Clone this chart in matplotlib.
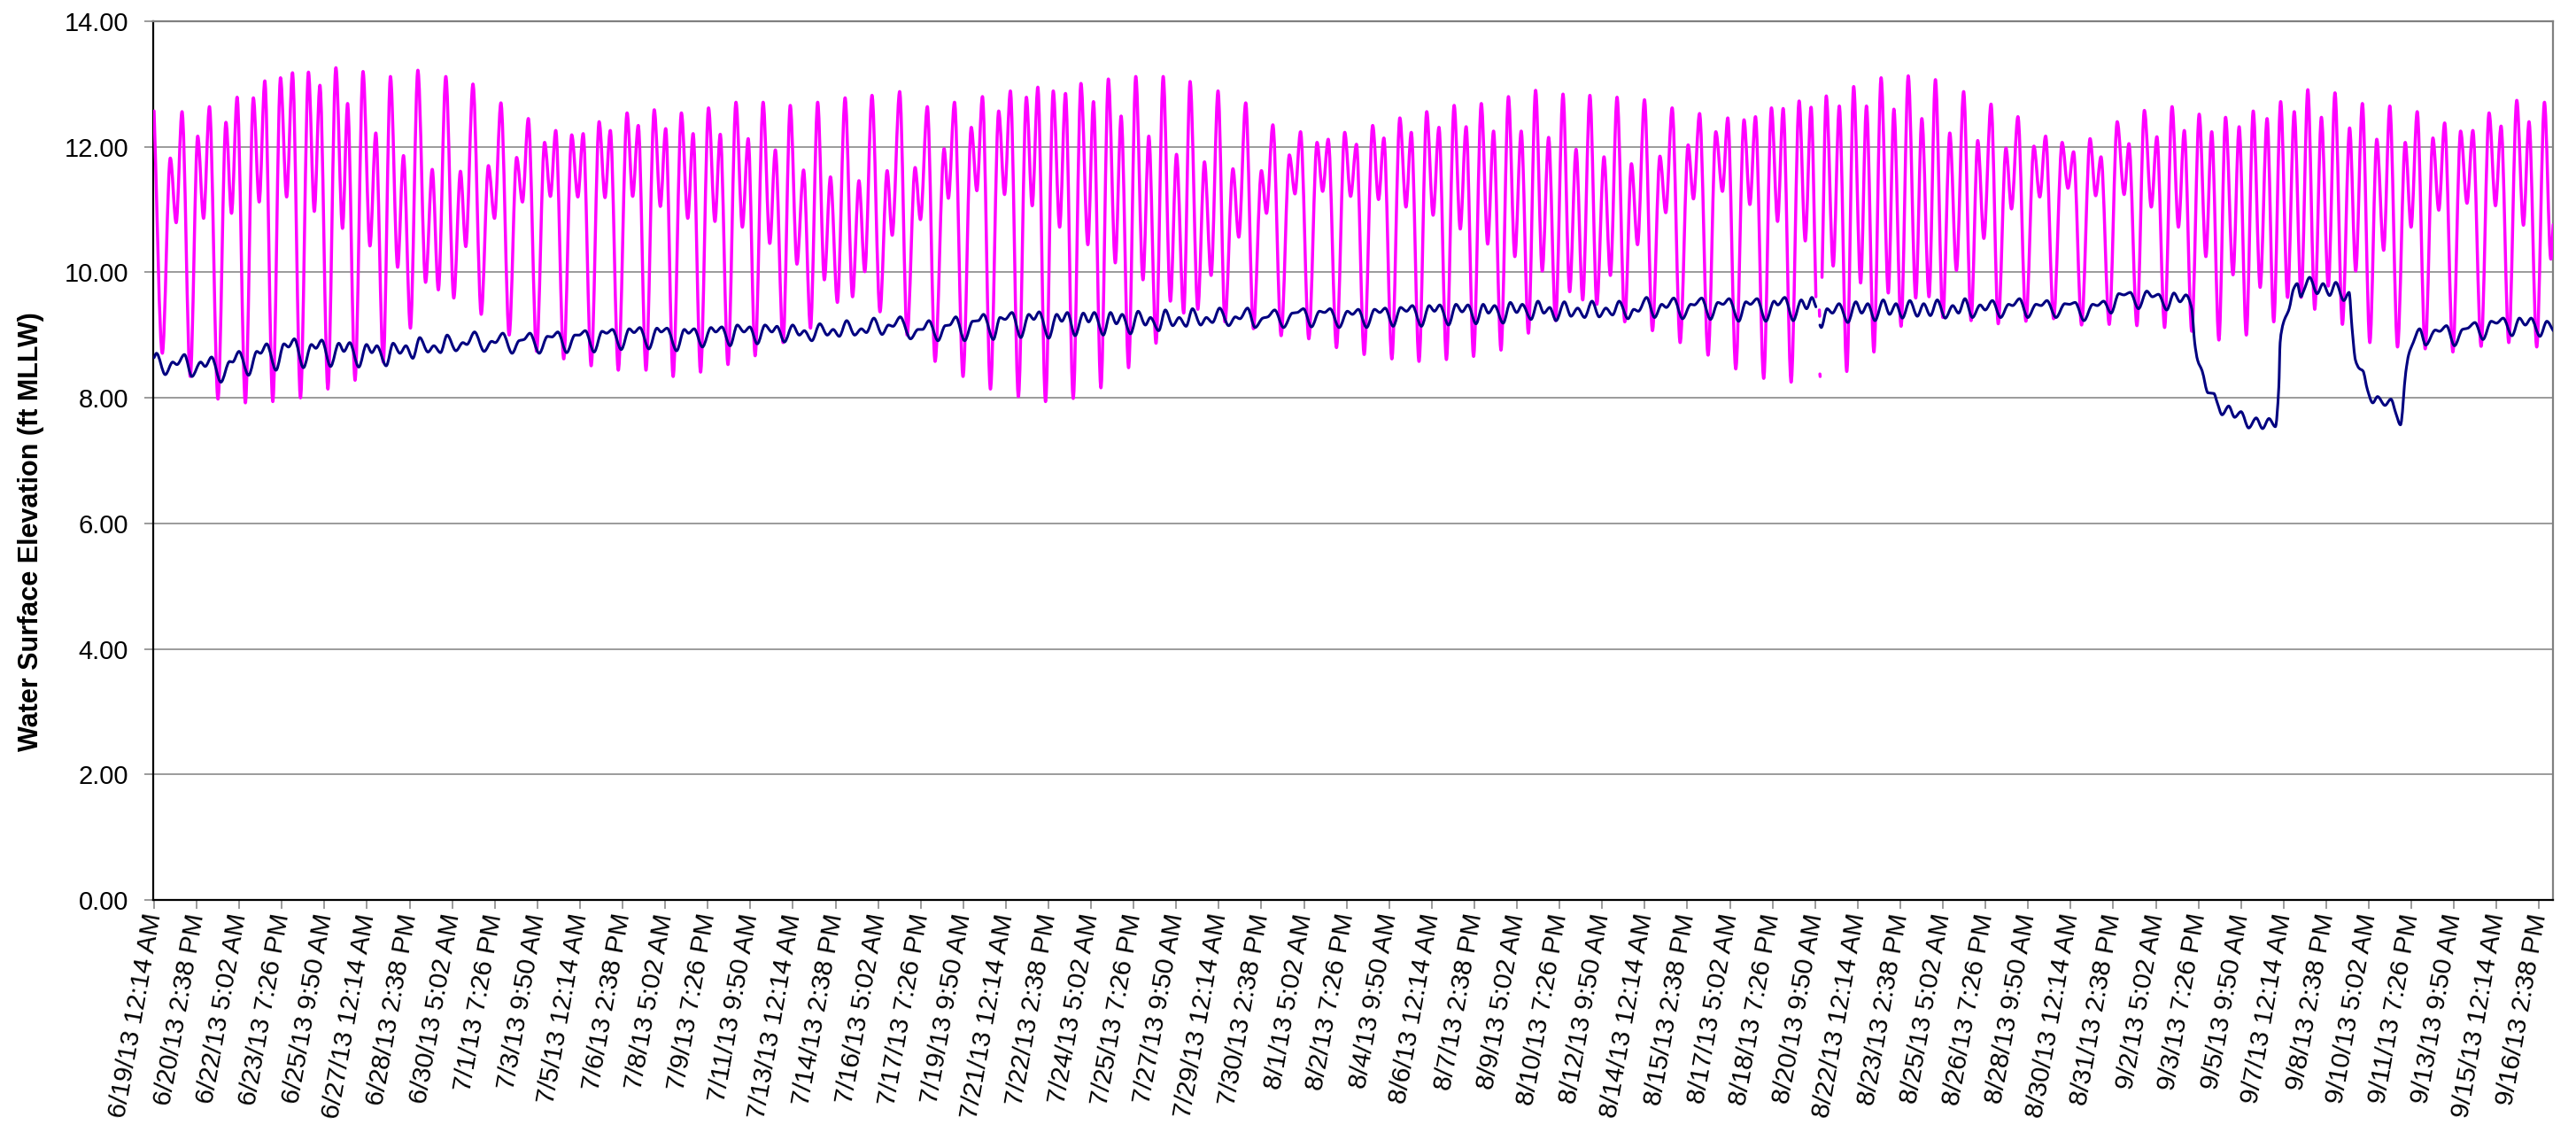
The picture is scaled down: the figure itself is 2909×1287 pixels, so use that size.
import numpy as np
import matplotlib
matplotlib.use("Agg")
import matplotlib.pyplot as plt
from matplotlib.path import Path
from matplotlib.patches import PathPatch

plt.rcParams['font.family'] = ['Liberation Sans', 'DejaVu Sans']

# ---------------- data (time in days after 6/19/13 12:14 AM, elevation ft MLLW) -------------
# Outside tide (magenta): successive high / low water values
tide_t_1 = [0.00, 0.31, 0.61, 0.83, 1.05, 1.36, 1.64, 1.86, 2.08, 2.40, 2.70, 2.91, 3.12, 3.43, 3.73,
            3.95, 4.16, 4.46, 4.75, 4.98, 5.20, 5.50, 5.80, 6.02, 6.23, 6.53, 6.83, 7.08, 7.27, 7.55,
            7.85, 8.11, 8.33, 8.61, 8.88, 9.15, 9.37, 9.63, 9.91, 10.20, 10.45, 10.68, 10.96]
tide_v_1 = [12.57, 8.71, 11.82, 10.79, 12.56, 8.34, 12.17, 10.86, 12.64, 7.98, 12.39, 10.94, 12.79, 7.92,
            12.78, 11.12, 13.05, 7.94, 13.10, 11.20, 13.18, 8.00, 13.19, 10.97, 12.98, 8.14, 13.26,
            10.70, 12.69, 8.28, 13.20, 10.42, 12.22, 8.57, 13.12, 10.08, 11.86, 9.11, 13.22, 9.84,
            11.64, 9.72, 13.12]
tide_t_2 = [11.26, 11.51, 11.71, 11.98, 12.29, 12.56, 12.79, 13.03, 13.34, 13.62, 13.84, 14.06, 14.37,
            14.67, 14.89, 15.09, 15.39, 15.69, 15.92, 16.12, 16.42, 16.72, 16.94, 17.14, 17.44, 17.77,
            17.98, 18.19, 18.48, 18.79, 19.02, 19.22, 19.50, 19.81, 20.05, 20.25, 20.53, 20.83, 21.07,
            21.27, 21.56, 21.86, 22.10, 22.32]
tide_v_2 = [9.59, 11.61, 10.41, 13.00, 9.33, 11.70, 10.86, 12.70, 9.00, 11.83, 11.12, 12.45, 8.74, 12.07,
            11.21, 12.26, 8.62, 12.19, 11.20, 12.21, 8.51, 12.40, 11.19, 12.26, 8.44, 12.54, 11.21,
            12.34, 8.44, 12.59, 11.05, 12.29, 8.34, 12.54, 10.86, 12.21, 8.41, 12.62, 10.81, 12.20,
            8.53, 12.71, 10.72, 12.13]
tide_t_3 = [22.58, 22.88, 23.13, 23.34, 23.63, 23.90, 24.15, 24.40, 24.66, 24.93, 25.18, 25.41, 25.67,
            25.96, 26.24, 26.48, 26.70, 26.97, 27.27, 27.54, 27.73, 28.01, 28.29, 28.59, 28.79, 29.05,
            29.34, 29.68, 29.84, 30.07, 30.39, 30.70, 30.91, 31.12, 31.42, 31.73, 31.95, 32.17, 32.47,
            32.77, 32.99, 33.20, 33.49, 33.78]
tide_v_3 = [8.67, 12.71, 10.46, 11.95, 8.88, 12.66, 10.13, 11.63, 9.11, 12.71, 9.88, 11.52, 9.52, 12.78,
            9.61, 11.46, 10.01, 12.82, 9.37, 11.62, 10.59, 12.88, 9.00, 11.67, 10.84, 12.64, 8.58,
            11.97, 11.18, 12.71, 8.34, 12.31, 11.30, 12.80, 8.14, 12.57, 11.24, 12.89, 8.02, 12.79,
            11.06, 12.95, 7.94, 12.89]
tide_t_4 = [34.02, 34.24, 34.53, 34.82, 35.08, 35.29, 35.57, 35.85, 36.11, 36.33, 36.61, 36.88, 37.15,
            37.37, 37.64, 37.91, 38.18, 38.41, 38.68, 38.92, 39.21, 39.46, 39.71, 39.97, 40.23, 40.53,
            40.75, 41.01, 41.30, 41.60, 41.79, 42.03, 42.34, 42.65, 42.86, 43.07, 43.38, 43.69, 43.90,
            44.11, 44.42, 44.73, 44.95]
tide_v_4 = [10.72, 12.85, 7.99, 13.01, 10.44, 12.72, 8.16, 13.08, 10.15, 12.49, 8.48, 13.12, 9.88, 12.17,
            8.87, 13.12, 9.54, 11.88, 9.35, 13.04, 9.41, 11.76, 9.95, 12.89, 9.21, 11.65, 10.56, 12.70,
            9.10, 11.62, 10.94, 12.35, 8.99, 11.87, 11.25, 12.24, 8.94, 12.07, 11.29, 12.12, 8.80,
            12.23, 11.21]
tide_t_5 = [45.17, 45.46, 45.78, 46.00, 46.20, 46.50, 46.80, 47.03, 47.23, 47.52, 47.81, 48.05, 48.27,
            48.55, 48.84, 49.07, 49.29, 49.57, 49.86, 50.10, 50.32, 50.60, 50.88, 51.12, 51.36, 51.63,
            51.90, 52.15, 52.39, 52.65, 52.93, 53.18, 53.42, 53.67, 53.94, 54.20, 54.47, 54.71, 54.96,
            55.25, 55.50, 55.73, 55.99, 56.29]
tide_v_5 = [12.04, 8.69, 12.34, 11.16, 12.14, 8.62, 12.46, 11.04, 12.23, 8.58, 12.56, 10.91, 12.31, 8.61,
            12.66, 10.69, 12.32, 8.66, 12.69, 10.45, 12.25, 8.76, 12.80, 10.25, 12.25, 9.03, 12.90,
            10.02, 12.15, 9.23, 12.84, 9.69, 11.96, 9.56, 12.82, 9.49, 11.84, 9.95, 12.79, 9.21, 11.73,
            10.44, 12.75, 9.07]
tide_t_6 = [56.57, 56.79, 57.03, 57.33, 57.63, 57.83, 58.06, 58.38, 58.67, 58.92, 59.12, 59.42, 59.73,
            59.95, 60.16, 60.47, 60.76, 60.99, 61.20, 61.50, 61.80, 62.03, 62.25, 62.43]
tide_v_6 = [11.85, 10.95, 12.62, 8.88, 12.03, 11.17, 12.53, 8.68, 12.24, 11.29, 12.46, 8.46, 12.43, 11.08,
            12.48, 8.31, 12.62, 10.81, 12.61, 8.25, 12.73, 10.50, 12.63, 9.61]
# short fragments recorded inside the data gap of 8/21
tide_gap_t = [62.56, 62.57, np.nan, 62.58, 62.59]
tide_gap_v = [9.40, 9.30, np.nan, 8.38, 8.34]
tide_t_7 = [62.66, 62.82, 63.08, 63.31, 63.59, 63.85, 64.11, 64.33, 64.61, 64.88, 65.15, 65.36, 65.63,
            65.90, 66.18, 66.41, 66.68, 66.92, 67.20, 67.46, 67.71]
tide_v_7 = [9.92, 12.81, 10.10, 12.65, 8.42, 12.96, 9.83, 12.65, 8.73, 13.10, 9.67, 12.60, 9.14, 13.13,
            9.59, 12.45, 9.61, 13.07, 9.28, 12.22, 10.03]
tide_t_8 = [67.98, 68.26, 68.51, 68.74, 69.01, 69.28, 69.57, 69.78, 70.02, 70.32, 70.62, 70.84, 71.06,
            71.36, 71.68, 71.90, 72.11, 72.41, 72.73, 72.94, 73.14, 73.45, 73.75, 74.01, 74.19, 74.49,
            74.77, 75.03, 75.24, 75.53, 75.81, 76.05, 76.27, 76.55, 76.83, 77.08, 77.30, 77.57, 77.82,
            78.10, 78.33, 78.60, 78.86]
tide_v_8 = [12.88, 9.23, 12.10, 10.54, 12.68, 9.18, 11.98, 11.01, 12.48, 9.22, 12.01, 11.20, 12.17, 9.26,
            12.07, 11.34, 11.92, 9.16, 12.13, 11.22, 11.84, 9.17, 12.40, 11.24, 12.05, 9.15, 12.58,
            11.04, 12.16, 9.12, 12.64, 10.72, 12.26, 9.06, 12.52, 10.25, 12.24, 8.92, 12.47, 9.96,
            12.32, 9.00, 12.57]
tide_t_9 = [79.12, 79.38, 79.63, 79.89, 80.15, 80.40, 80.66, 80.91, 81.17, 81.42, 81.68, 81.93, 82.21,
            82.48, 82.71, 82.96, 83.24, 83.50, 83.76, 83.99, 84.28, 84.57, 84.79, 85.02, 85.32, 85.61,
            85.83, 86.05, 86.36, 86.65, 86.89, 87.11, 87.42, 87.72, 87.96, 88.17, 88.46, 88.76, 89.01,
            89.22, 89.51, 89.80, 90.04, 90.13]
tide_v_9 = [9.76, 12.45, 9.21, 12.72, 9.60, 12.56, 9.60, 12.91, 9.41, 12.47, 9.78, 12.86, 9.17, 12.30,
            10.02, 12.69, 8.88, 12.12, 10.35, 12.65, 8.81, 12.07, 10.72, 12.56, 8.78, 12.14, 10.99,
            12.38, 8.73, 12.25, 11.10, 12.26, 8.82, 12.54, 11.06, 12.33, 8.88, 12.74, 10.75, 12.40,
            8.81, 12.71, 10.21, 10.76]

# Inside water level (navy)
lagoon_t_1 = [0.00, 0.09, 0.42, 0.70, 0.86, 1.14, 1.42, 1.75, 1.92, 2.16, 2.51, 2.84, 2.95, 3.19, 3.55,
              3.86, 4.00, 4.23, 4.58, 4.88, 5.05, 5.27, 5.61, 5.91, 6.08, 6.30, 6.63, 6.94, 7.13, 7.35,
              7.69, 7.98, 8.18, 8.37, 8.72, 8.98, 9.24, 9.46, 9.72, 9.98, 10.29, 10.51, 10.76, 11.01]
lagoon_v_1 = [8.64, 8.71, 8.37, 8.57, 8.53, 8.69, 8.34, 8.57, 8.50, 8.65, 8.25, 8.58, 8.57, 8.74, 8.36,
              8.74, 8.71, 8.86, 8.44, 8.86, 8.81, 8.94, 8.48, 8.85, 8.79, 8.92, 8.50, 8.87, 8.74, 8.88,
              8.49, 8.85, 8.72, 8.83, 8.51, 8.87, 8.71, 8.83, 8.63, 8.96, 8.73, 8.83, 8.72, 9.00]
lagoon_t_2 = [11.34, 11.60, 11.75, 12.04, 12.40, 12.68, 12.82, 13.10, 13.45, 13.71, 13.90, 14.12, 14.47,
              14.78, 14.95, 15.17, 15.50, 15.81, 15.97, 16.20, 16.53, 16.83, 17.00, 17.22, 17.55, 17.85,
              18.03, 18.25, 18.59, 18.89, 19.05, 19.27, 19.63, 19.92, 20.08, 20.29, 20.60, 20.92, 21.10,
              21.33, 21.64, 21.91, 22.16, 22.38]
lagoon_v_2 = [8.75, 8.88, 8.85, 9.05, 8.74, 8.90, 8.88, 9.03, 8.71, 8.91, 8.93, 9.03, 8.71, 8.98, 8.97,
              9.05, 8.72, 9.00, 9.00, 9.07, 8.73, 9.06, 9.03, 9.09, 8.77, 9.10, 9.04, 9.12, 8.78, 9.11,
              9.05, 9.11, 8.75, 9.09, 9.03, 9.10, 8.81, 9.12, 9.05, 9.13, 8.83, 9.16, 9.05, 9.13]
lagoon_t_3 = [22.66, 22.95, 23.21, 23.40, 23.68, 23.99, 24.24, 24.43, 24.71, 25.01, 25.29, 25.51, 25.74,
              26.02, 26.32, 26.57, 26.76, 27.04, 27.35, 27.59, 27.76, 28.03, 28.42, 28.70, 28.87, 29.11,
              29.45, 29.72, 29.89, 30.12, 30.45, 30.75, 30.97, 31.16, 31.53, 31.78, 31.97, 32.23, 32.56,
              32.86, 33.05, 33.25, 33.61]
lagoon_v_3 = [8.86, 9.16, 9.05, 9.14, 8.89, 9.16, 9.00, 9.07, 8.91, 9.18, 9.00, 9.09, 8.98, 9.23, 9.00,
              9.10, 9.04, 9.27, 9.01, 9.16, 9.14, 9.29, 8.94, 9.09, 9.09, 9.23, 8.91, 9.15, 9.16, 9.29,
              8.91, 9.22, 9.23, 9.33, 8.93, 9.28, 9.25, 9.36, 8.96, 9.33, 9.25, 9.37, 8.95]
lagoon_t_4 = [33.91, 34.10, 34.31, 34.60, 34.91, 35.11, 35.32, 35.66, 35.93, 36.15, 36.37, 36.68, 36.97,
              37.24, 37.43, 37.74, 37.99, 38.27, 38.51, 38.77, 39.01, 39.32, 39.53, 39.76, 40.03, 40.37,
              40.62, 40.79, 41.08, 41.36, 41.65, 41.84, 42.10, 42.43, 42.76, 42.95, 43.18, 43.48, 43.78,
              43.97, 44.18, 44.52, 44.83]
lagoon_v_4 = [9.33, 9.22, 9.36, 8.99, 9.35, 9.21, 9.36, 9.00, 9.36, 9.18, 9.33, 9.02, 9.38, 9.16, 9.28,
              9.07, 9.40, 9.15, 9.28, 9.14, 9.42, 9.16, 9.28, 9.20, 9.43, 9.15, 9.29, 9.26, 9.43, 9.12,
              9.27, 9.29, 9.40, 9.12, 9.35, 9.36, 9.42, 9.13, 9.38, 9.36, 9.42, 9.12, 9.38]
lagoon_t_5 = [45.02, 45.24, 45.55, 45.85, 46.05, 46.25, 46.55, 46.83, 47.05, 47.27, 47.61, 47.90, 48.10,
              48.30, 48.63, 48.91, 49.14, 49.36, 49.66, 49.93, 50.13, 50.36, 50.68, 50.95, 51.19, 51.40,
              51.73, 51.99, 52.21, 52.43, 52.67, 52.98, 53.23, 53.48, 53.74, 54.02, 54.29, 54.54, 54.79,
              55.04, 55.37, 55.59, 55.76, 56.07, 56.37]
lagoon_v_5 = [9.33, 9.41, 9.12, 9.41, 9.36, 9.43, 9.14, 9.44, 9.38, 9.47, 9.14, 9.47, 9.38, 9.48, 9.16,
              9.49, 9.37, 9.48, 9.18, 9.49, 9.35, 9.47, 9.19, 9.52, 9.36, 9.49, 9.25, 9.54, 9.35, 9.44,
              9.23, 9.53, 9.30, 9.43, 9.28, 9.54, 9.29, 9.43, 9.32, 9.54, 9.26, 9.41, 9.38, 9.60, 9.28]
lagoon_t_6 = [56.64, 56.81, 57.09, 57.42, 57.73, 57.86, 58.14, 58.47, 58.75, 58.94, 59.17, 59.53, 59.80,
              59.97, 60.22, 60.55, 60.86, 61.00, 61.26, 61.58, 61.88, 62.08, 62.28, 62.43]
lagoon_v_6 = [9.49, 9.44, 9.59, 9.26, 9.49, 9.48, 9.59, 9.25, 9.52, 9.49, 9.58, 9.22, 9.53, 9.49, 9.58,
              9.22, 9.54, 9.48, 9.60, 9.23, 9.56, 9.42, 9.60, 9.45]
lagoon_t_7 = [62.58, 62.63, 62.85, 63.05, 63.30, 63.63, 63.93, 64.15, 64.38, 64.65, 64.96, 65.20, 65.44,
              65.68, 65.96, 66.24, 66.48, 66.73, 66.99, 67.29, 67.57]
lagoon_v_7 = [9.16, 9.12, 9.42, 9.35, 9.50, 9.20, 9.53, 9.35, 9.50, 9.23, 9.56, 9.33, 9.50, 9.27, 9.55,
              9.30, 9.50, 9.31, 9.56, 9.27, 9.47]
lagoon_t_8 = [67.79, 68.03, 68.31, 68.60, 68.79, 69.06, 69.37, 69.67, 69.82, 70.08, 70.39, 70.70, 70.89,
              71.11, 71.45, 71.78, 71.95, 72.17, 72.50, 72.83, 73.00, 73.24, 73.52, 73.81, 74.00, 74.24,
              74.55, 74.86, 75.07, 75.30, 75.61, 75.88, 76.11, 76.33, 76.55, 76.66, 76.77, 76.94, 77.16,
              77.38, 77.51, 77.69, 77.94, 78.16, 78.40, 78.69, 78.97]
lagoon_v_8 = [9.35, 9.58, 9.28, 9.48, 9.40, 9.55, 9.28, 9.49, 9.47, 9.58, 9.28, 9.49, 9.47, 9.55, 9.28,
              9.50, 9.49, 9.52, 9.23, 9.49, 9.47, 9.54, 9.35, 9.66, 9.64, 9.68, 9.42, 9.70, 9.61, 9.65,
              9.40, 9.67, 9.53, 9.64, 9.42, 8.88, 8.60, 8.43, 8.08, 8.07, 7.92, 7.73, 7.87, 7.69, 7.78,
              7.52, 7.68]
lagoon_t_9 = [79.21, 79.45, 79.69, 79.82, 79.87, 79.99, 80.21, 80.37, 80.51, 80.65, 80.76, 80.98, 81.26,
              81.48, 81.73, 81.96, 82.26, 82.46, 82.57, 82.70, 82.84, 82.98, 83.15, 83.35, 83.53, 83.81,
              84.03, 84.22, 84.39, 84.59, 84.70, 84.87, 85.11, 85.34, 85.70, 85.86, 86.12, 86.42, 86.72,
              86.92, 87.19, 87.49, 87.80, 88.00, 88.25, 88.58, 88.86, 89.08, 89.30, 89.63, 89.89, 90.13]
lagoon_v_9 = [7.51, 7.67, 7.54, 8.17, 8.88, 9.19, 9.42, 9.73, 9.82, 9.61, 9.71, 9.92, 9.66, 9.82, 9.63,
              9.84, 9.55, 9.68, 9.12, 8.60, 8.47, 8.43, 8.13, 7.92, 8.02, 7.88, 7.98, 7.75, 7.57, 8.41,
              8.69, 8.88, 9.10, 8.84, 9.08, 9.06, 9.15, 8.83, 9.09, 9.11, 9.20, 8.93, 9.22, 9.19, 9.27,
              8.99, 9.27, 9.16, 9.27, 8.98, 9.22, 9.07]

x_tick_labels = [
    "6/19/13 12:14 AM", "6/20/13 2:38 PM", "6/22/13 5:02 AM", "6/23/13 7:26 PM", "6/25/13 9:50 AM",
    "6/27/13 12:14 AM", "6/28/13 2:38 PM", "6/30/13 5:02 AM", "7/1/13 7:26 PM", "7/3/13 9:50 AM",
    "7/5/13 12:14 AM", "7/6/13 2:38 PM", "7/8/13 5:02 AM", "7/9/13 7:26 PM", "7/11/13 9:50 AM",
    "7/13/13 12:14 AM", "7/14/13 2:38 PM", "7/16/13 5:02 AM", "7/17/13 7:26 PM", "7/19/13 9:50 AM",
    "7/21/13 12:14 AM", "7/22/13 2:38 PM", "7/24/13 5:02 AM", "7/25/13 7:26 PM", "7/27/13 9:50 AM",
    "7/29/13 12:14 AM", "7/30/13 2:38 PM", "8/1/13 5:02 AM", "8/2/13 7:26 PM", "8/4/13 9:50 AM",
    "8/6/13 12:14 AM", "8/7/13 2:38 PM", "8/9/13 5:02 AM", "8/10/13 7:26 PM", "8/12/13 9:50 AM",
    "8/14/13 12:14 AM", "8/15/13 2:38 PM", "8/17/13 5:02 AM", "8/18/13 7:26 PM", "8/20/13 9:50 AM",
    "8/22/13 12:14 AM", "8/23/13 2:38 PM", "8/25/13 5:02 AM", "8/26/13 7:26 PM", "8/28/13 9:50 AM",
    "8/30/13 12:14 AM", "8/31/13 2:38 PM", "9/2/13 5:02 AM", "9/3/13 7:26 PM", "9/5/13 9:50 AM",
    "9/7/13 12:14 AM", "9/8/13 2:38 PM", "9/10/13 5:02 AM", "9/11/13 7:26 PM", "9/13/13 9:50 AM",
    "9/15/13 12:14 AM", "9/16/13 2:38 PM"]
tick_step_days = 1.6          # 38 h 24 min between labelled categories
y_ticks = [0, 2, 4, 6, 8, 10, 12, 14]
y_label = "Water Surface Elevation (ft MLLW)"

tide_t = (tide_t_1 + tide_t_2 + tide_t_3 + tide_t_4 + tide_t_5 + tide_t_6 + [np.nan] + tide_gap_t
          + [np.nan] + tide_t_7 + tide_t_8 + tide_t_9)
tide_v = (tide_v_1 + tide_v_2 + tide_v_3 + tide_v_4 + tide_v_5 + tide_v_6 + [np.nan] + tide_gap_v
          + [np.nan] + tide_v_7 + tide_v_8 + tide_v_9)
lagoon_t = (lagoon_t_1 + lagoon_t_2 + lagoon_t_3 + lagoon_t_4 + lagoon_t_5 + lagoon_t_6 + [np.nan]
            + lagoon_t_7 + lagoon_t_8 + lagoon_t_9)
lagoon_v = (lagoon_v_1 + lagoon_v_2 + lagoon_v_3 + lagoon_v_4 + lagoon_v_5 + lagoon_v_6 + [np.nan]
            + lagoon_v_7 + lagoon_v_8 + lagoon_v_9)


def smooth_line_path(t, v):
    """Smoothed-line rendering (like a spreadsheet 'smoothed line'): cubic Bezier pieces
    through the recorded points, monotone tangents so extremes stay extremes."""
    t = np.asarray(t, float)
    v = np.asarray(v, float)
    verts, codes = [], []
    breaks = np.where(np.isnan(t))[0]
    starts = np.concatenate([[0], breaks + 1])
    ends = np.concatenate([breaks, [len(t)]])
    for s, e in zip(starts, ends):
        tt, vv = t[s:e], v[s:e]
        n = len(tt)
        if n < 2:
            continue
        h = np.diff(tt)
        d = np.diff(vv) / h
        m = np.zeros(n)
        m[0], m[-1] = d[0], d[-1]
        for i in range(1, n - 1):
            if d[i - 1] * d[i] > 0:
                w1 = 2 * h[i] + h[i - 1]
                w2 = h[i] + 2 * h[i - 1]
                m[i] = (w1 + w2) / (w1 / d[i - 1] + w2 / d[i])
        verts.append((tt[0], vv[0]))
        codes.append(Path.MOVETO)
        for i in range(n - 1):
            verts += [(tt[i] + h[i] / 3, vv[i] + m[i] * h[i] / 3),
                      (tt[i + 1] - h[i] / 3, vv[i + 1] - m[i + 1] * h[i] / 3),
                      (tt[i + 1], vv[i + 1])]
            codes += [Path.CURVE4] * 3
    return Path(verts, codes)


W, H = 2909, 1287
fig = plt.figure(figsize=(W / 100, H / 100), dpi=100)
left_px, right_px, top_px, bottom_px = 173, 2883, 24, 1016
ax = fig.add_axes([left_px / W, 1 - bottom_px / H, (right_px - left_px) / W, (bottom_px - top_px) / H])

ax.add_patch(PathPatch(smooth_line_path(tide_t, tide_v), facecolor='none', edgecolor='#FF00FF',
                       lw=2.5, joinstyle='round', capstyle='round', zorder=3))
ax.add_patch(PathPatch(smooth_line_path(lagoon_t, lagoon_v), facecolor='none', edgecolor='#000080',
                       lw=2.2, joinstyle='round', capstyle='round', zorder=4))

ax.set_xlim(-0.033, 90.12)
ax.set_ylim(0, 14)
ax.set_yticks(y_ticks)
ax.set_yticklabels([f"{y:.2f}" for y in y_ticks])
ax.set_xticks([k * tick_step_days for k in range(len(x_tick_labels))])
ax.set_xticklabels(x_tick_labels)

ax.yaxis.grid(True, color='#808080', lw=1.1)
ax.set_axisbelow(True)
for side in ('top', 'right'):
    ax.spines[side].set_color('#808080')
    ax.spines[side].set_linewidth(1.6)
for side in ('left', 'bottom'):
    ax.spines[side].set_color('black')
    ax.spines[side].set_linewidth(1.6)

ax.tick_params(axis='y', direction='out', length=7.2, width=1.1, color='#808080',
               labelsize=21, pad=13)
ax.tick_params(axis='x', direction='out', length=7.2, width=1.1, color='#808080',
               labelsize=21.5, pad=4)
for lbl in ax.get_xticklabels():
    lbl.set_rotation(80)
    lbl.set_rotation_mode('anchor')
    lbl.set_horizontalalignment('right')
    lbl.set_verticalalignment('center')

fig.text(35 / W, 1 - 600 / H, y_label, rotation=90, fontsize=22, fontweight='bold',
         ha='center', va='center')

fig.savefig("out.png", dpi=100)
